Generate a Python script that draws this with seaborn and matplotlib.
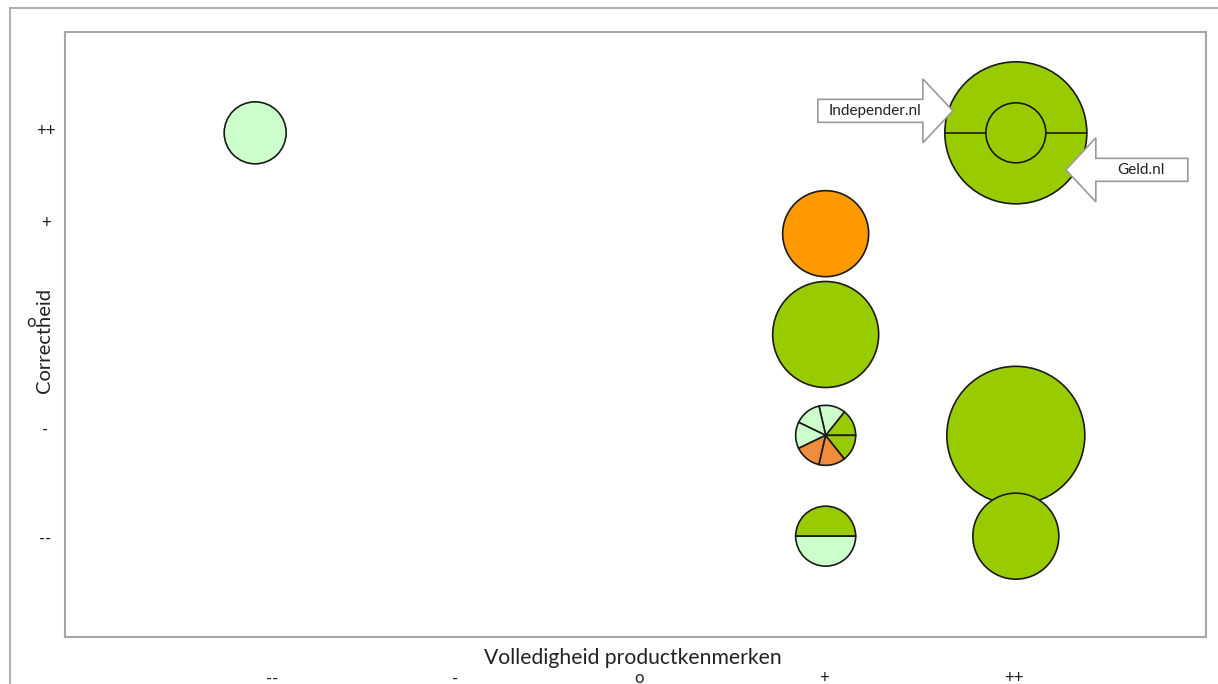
import matplotlib
matplotlib.use("Agg")
import matplotlib.pyplot as plt
import matplotlib.transforms as mtransforms
from matplotlib.patches import Wedge, Circle, Polygon, Rectangle
import seaborn as sns
import pandas as pd

# data
x_labels = ["--", "-", "o", "+", "++"]
x_tick_pos = [1.09, 2.05, 3.02, 3.99, 4.99]
y_labels = ["++", "+", "o", "-", "--"]
y_tick_pos = [5.03, 4.12, 3.14, 2.07, 0.99]

# plain bubbles: volledigheid, correctheid, kleur, straal (px)
bub_x = [1, 4, 4, 5, 5, 5]
bub_y = [5, 4, 3, 2, 1, 5]
bub_kleur = ["licht", "oranje", "groen", "groen", "groen", "groen"]
bub_r = [31, 43, 53, 69, 43, 71]

# pie bubble at (+, -): 7 equal slices, counter-clockwise from 0 deg
pie_x, pie_y, pie_r = 4, 2, 30
pie_slices = ["groen", "licht", "licht", "licht", "oranje2", "oranje2", "groen"]

# half bubble at (+, --)
half_x, half_y, half_r = 4, 1, 30
half_kleuren = ["groen", "licht"]  # top, bottom

# double bubble at (++, ++)
dub_x, dub_y, dub_inner_r = 5, 5, 30

kleuren = {"licht": "#ccffcc", "oranje": "#ff9900", "groen": "#99cc00",
           "oranje2": "#f08c3c"}

sns.set_style("white")
plt.rcParams["font.family"] = ["Lato", "DejaVu Sans"]

fig = plt.figure(figsize=(12.18, 6.84), dpi=100)
ax = fig.add_axes([65 / 1218, 1 - 637 / 684, 1141 / 1218, 605 / 684])

df = pd.DataFrame({"x": bub_x, "y": bub_y, "kleur": bub_kleur})
sizes = [(2 * r * 0.72) ** 2 for r in bub_r]
sns.scatterplot(data=df, x="x", y="y", hue="kleur", palette=kleuren,
                s=sizes, edgecolor="#1a1a1a", linewidth=1.2, legend=False,
                ax=ax, zorder=2)

ax.set_xlim(0, 6)
ax.set_ylim(0, 6)


def inch_trans(x, y):
    return fig.dpi_scale_trans + mtransforms.ScaledTranslation(x, y, ax.transData)


# pie
step = 360 / len(pie_slices)
for i, k in enumerate(pie_slices):
    ax.add_patch(Wedge((0, 0), pie_r / 100, i * step, (i + 1) * step,
                       facecolor=kleuren[k], edgecolor="#1a1a1a", lw=1.2,
                       transform=inch_trans(pie_x, pie_y), zorder=3))

# half
for i, k in enumerate(half_kleuren):
    ax.add_patch(Wedge((0, 0), half_r / 100, i * 180, (i + 1) * 180,
                       facecolor=kleuren[k], edgecolor="#1a1a1a", lw=1.2,
                       transform=inch_trans(half_x, half_y), zorder=3))

# double bubble details
t = inch_trans(dub_x, dub_y)
ax.add_patch(Circle((0, 0), dub_inner_r / 100, facecolor="none",
                    edgecolor="#1a1a1a", lw=1.2, transform=t, zorder=3))
outer = bub_r[-1] / 100
ri = dub_inner_r / 100
ax.plot([-outer, -ri], [0, 0], color="#1a1a1a", lw=1.2, transform=t, zorder=3)
ax.plot([ri, outer], [0, 0], color="#1a1a1a", lw=1.2, transform=t, zorder=3)


def block_arrow(ox, oy, direction, text, tx):
    # ox, oy: tip offset from bubble centre in px; direction +1 points right
    d = direction
    end = -135 if d > 0 else 122
    pts = [(0, 0), (-30 * d, 32), (-30 * d, 11.5), (end, 11.5),
           (end, -11.5), (-30 * d, -11.5), (-30 * d, -32)]
    pts = [((ox + px) / 100, (oy + py) / 100) for px, py in pts]
    ax.add_patch(Polygon(pts, closed=True, facecolor="white", edgecolor="#9a9a9a",
                         lw=1.2, transform=t, zorder=4))
    ax.text((ox + tx) / 100, oy / 100, text, transform=t, ha="center",
            va="center", fontsize=11, color="#222222", zorder=5)


block_arrow(-63, 22, 1, "Independer.nl", -78)
block_arrow(50, -37, -1, "Geld.nl", 75)

# axes styling
ax.set_xticks(x_tick_pos)
ax.set_xticklabels(x_labels)
ax.set_yticks(y_tick_pos)
ax.set_yticklabels(y_labels)
ax.tick_params(axis="x", length=0, pad=24, labelsize=12, colors="#222222")
ax.tick_params(axis="y", length=0, pad=14, labelsize=12, colors="#222222")
for lab in ax.get_yticklabels():
    lab.set_ha("center")

# the "o" label sits further left, clear of the axis title
o_lab = ax.yaxis.get_major_ticks()[2].label1
o_lab.set_transform(o_lab.get_transform()
                    + mtransforms.ScaledTranslation(-0.15, 0, fig.dpi_scale_trans))

ax.set_xlabel("Volledigheid productkenmerken", fontsize=15.2, color="#222222")
ax.xaxis.set_label_coords(0.498, -0.018)
ax.set_ylabel("Correctheid", fontsize=14.5, color="#222222")
ax.yaxis.set_label_coords(-0.0105, 0.49)

for s in ax.spines.values():
    s.set_color("#a6a6a6")
    s.set_linewidth(1.5)

# outer frame
fig.patches.append(Rectangle((10 / 1218, -0.05), 1.1, 1 - 8 / 684 + 0.05,
                             transform=fig.transFigure, fill=False,
                             edgecolor="#b0b0b0", lw=1.5, zorder=0))

fig.savefig("out.png", dpi=100)
